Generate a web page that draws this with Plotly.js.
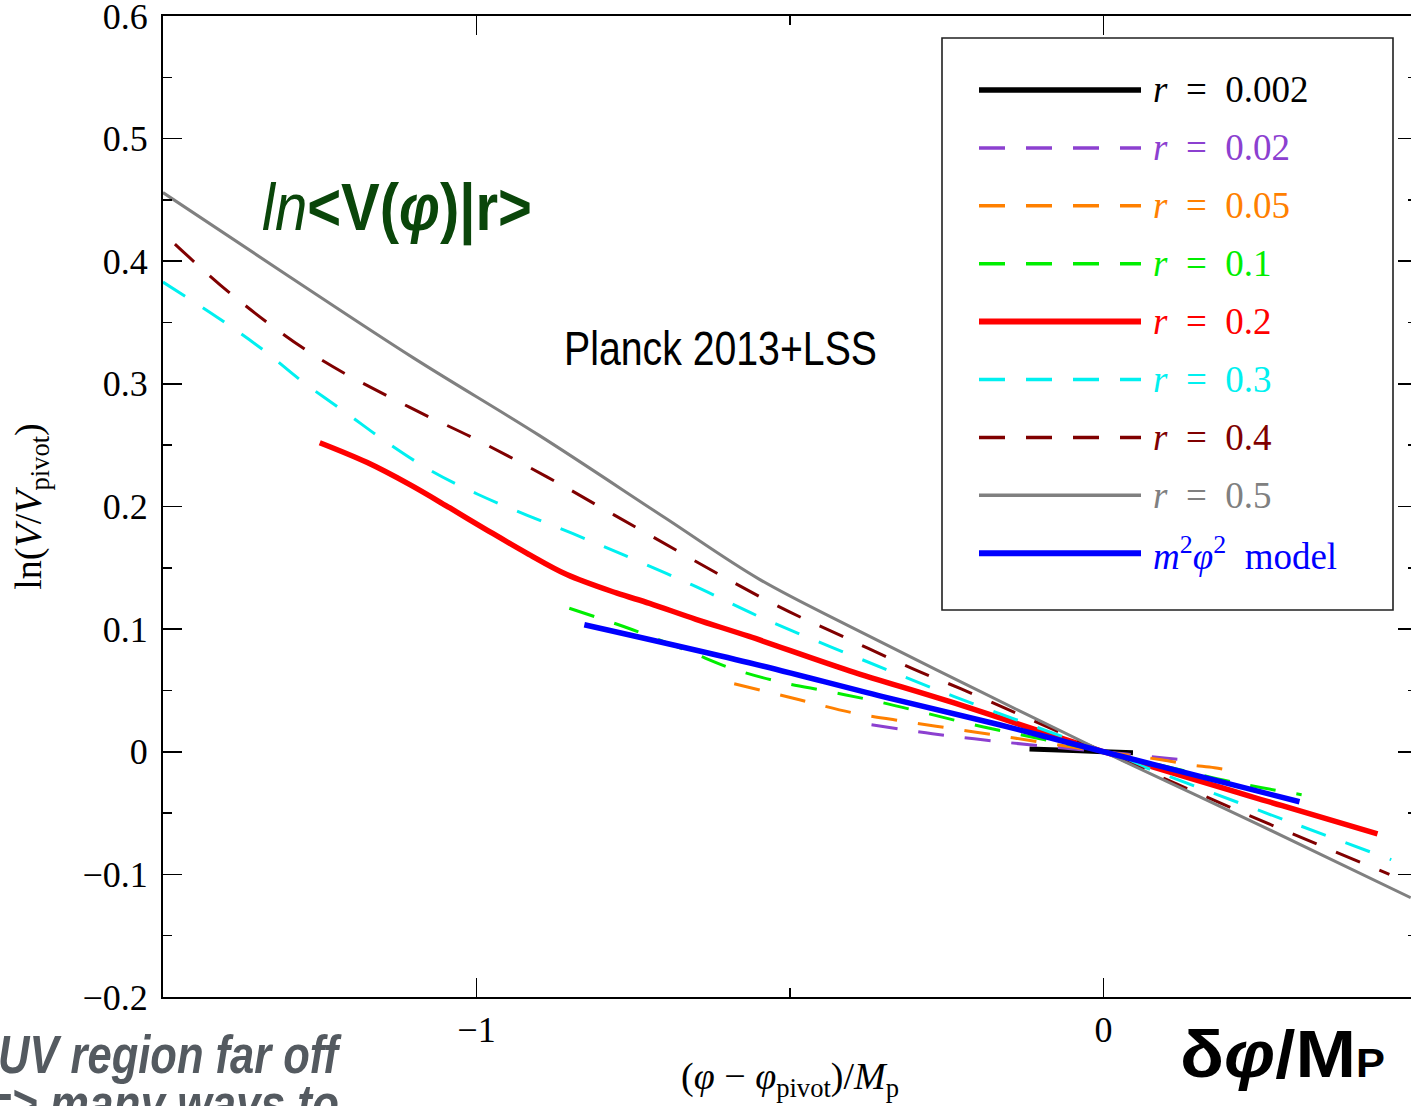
<!DOCTYPE html>
<html>
<head>
<meta charset="utf-8">
<script src="https://cdn.plot.ly/plotly-3.0.1.min.js"></script>
<style>
  html, body { margin: 0; padding: 0; overflow: hidden; background: #ffffff; }
  #plot { width: 1430px; height: 1106px; }
</style>
</head>
<body>
<div id="plot"></div>
<script>
// Reconstructed potential ln(V/V_pivot) versus field displacement for several tensor ratios r

const r002X = [-0.118, -0.06, 0, 0.047];
const r002Y = [0.0023, 0.0012, 0, -0.0008];

const r02X = [-0.370, -0.273, -0.193, -0.118, 0, 0.105, 0.142];
const r02Y = [0.022, 0.0147, 0.0098, 0.0057, 0, -0.0055, -0.0072];

const r05X = [-0.589, -0.485, -0.400, -0.314, -0.230, -0.145, 0, 0.092, 0.137, 0.177, 0.222];
const r05Y = [0.0555, 0.0424, 0.0318, 0.0245, 0.018, 0.0114, 0, -0.0065, -0.0106, -0.013, -0.017];

const r1X = [-0.852, -0.751, -0.660, -0.596, -0.517, -0.437, -0.352, -0.193, 0, 0.212, 0.316];
const r1Y = [0.117, 0.0995, 0.0816, 0.0685, 0.057, 0.049, 0.040, 0.0204, 0, -0.0253, -0.035];

const r2X = [-1.250, -1.175, -1.107, -1.043, -0.984, -0.920, -0.856, -0.777, -0.724, -0.650, -0.565, -0.405, -0.246, 0, 0.285, 0.437];
const r2Y = [0.252, 0.236, 0.218, 0.199, 0.181, 0.162, 0.1445, 0.1295, 0.121, 0.108, 0.094, 0.066, 0.041, 0, -0.044, -0.067];

const r3X = [-1.5, -1.407, -1.341, -1.278, -1.207, -1.142, -1.072, -0.998, -0.920, -0.847, -0.772, -0.656, -0.544, -0.394, -0.238, 0, 0.301, 0.459];
const r3Y = [0.383, 0.352, 0.328, 0.302, 0.276, 0.252, 0.229, 0.210, 0.193, 0.178, 0.162, 0.136, 0.109, 0.077, 0.045, 0, -0.058, -0.088];

const r4X = [-1.481, -1.386, -1.255, -1.107, -0.998, -0.887, -0.780, -0.528, -0.416, -0.301, -0.226, 0, 0.228, 0.456];
const r4Y = [0.414, 0.371, 0.322, 0.281, 0.254, 0.224, 0.193, 0.121, 0.094, 0.067, 0.051, 0, -0.051, -0.100];

const r5X = [-1.5, -1.3, -1.1, -0.9, -0.7, -0.55, -0.4, -0.2, 0, 0.25, 0.49];
const r5Y = [0.456, 0.388, 0.321, 0.258, 0.191, 0.141, 0.101, 0.050, 0, -0.060, -0.119];

const m2phi2X = [-0.828, -0.565, -0.352, -0.166, 0, 0.3126];
const m2phi2Y = [0.1036, 0.0726, 0.045, 0.022, 0, -0.0408];

const seriesLabels = [
  '<i>r</i>\u2002=\u20020.002',
  '<i>r</i>\u2002=\u20020.02',
  '<i>r</i>\u2002=\u20020.05',
  '<i>r</i>\u2002=\u20020.1',
  '<i>r</i>\u2002=\u20020.2',
  '<i>r</i>\u2002=\u20020.3',
  '<i>r</i>\u2002=\u20020.4',
  '<i>r</i>\u2002=\u20020.5',
  '<i>m</i><sup>2</sup><i>\u03c6</i><sup>2</sup>\u2002model'
];
const seriesX = [r002X, r02X, r05X, r1X, r2X, r3X, r4X, r5X, m2phi2X];
const seriesY = [r002Y, r02Y, r05Y, r1Y, r2Y, r3Y, r4Y, r5Y, m2phi2Y];
const seriesColors = ['#000000', '#8c40d0', '#ff8000', '#00ee00', '#ff0000', '#00f0f0', '#800000', '#808080', '#0000ff'];
const DASHED = '26px,21px';
const seriesDash = ['solid', DASHED, DASHED, DASHED, 'solid', DASHED, DASHED, 'solid', 'solid'];
const seriesWidth = [5, 3, 3, 3, 5.5, 3, 3, 3, 5.5];

const xTickVals = [-1, 0];
const xTickText = ['\u22121', '0'];
const xMinorVals = [-1.5, -0.5, 0.5];
const yTickVals = [-0.2, -0.1, 0, 0.1, 0.2, 0.3, 0.4, 0.5, 0.6];
const yTickText = ['\u22120.2', '\u22120.1', '0', '0.1', '0.2', '0.3', '0.4', '0.5', '0.6'];
const yMinorVals = [-0.15, -0.05, 0.05, 0.15, 0.25, 0.35, 0.45, 0.55];

const traces = seriesX.map((xs, i) => ({
  type: 'scatter',
  mode: 'lines',
  x: xs,
  y: seriesY[i],
  name: seriesLabels[i],
  line: { color: seriesColors[i], width: seriesWidth[i], dash: seriesDash[i], shape: 'spline', smoothing: 1.0 },
  showlegend: false,
  hoverinfo: 'skip'
}));

// Figure geometry (pixels) used to place the boxed key and the captions
const W = 1430, H = 1106, ML = 163, MR = 13, MT = 16, MB = 109;
const PW = W - ML - MR, PH = H - MT - MB;
const px = v => (v - ML) / PW;
const py = v => (H - MB - v) / PH;

const shapes = [];
const annotations = [];
const fitWidths = {};   // annotation index -> rendered text width in px (condensed captions)

shapes.push({
  type: 'rect', xref: 'paper', yref: 'paper',
  x0: px(942), x1: px(1393), y0: py(610), y1: py(38),
  line: { color: '#202020', width: 1.6 }, fillcolor: 'rgba(255,255,255,1)', layer: 'above'
});
seriesLabels.forEach((lab, i) => {
  const rowY = py(90 + 57.9 * i);
  shapes.push({
    type: 'line', xref: 'paper', yref: 'paper',
    x0: px(979), x1: px(1141), y0: rowY, y1: rowY,
    line: { color: seriesColors[i], width: seriesWidth[i] + 0.5, dash: seriesDash[i] }, layer: 'above'
  });
  annotations.push({
    xref: 'paper', yref: 'paper', x: px(1151), y: rowY,
    xanchor: 'left', yanchor: 'middle', align: 'left', showarrow: false,
    text: lab,
    font: { family: 'Liberation Serif, serif', size: 37, color: seriesColors[i] }
  });
});

function caption(text, left, midY, size, color, family, width) {
  if (width) fitWidths[annotations.length] = width;
  annotations.push({
    xref: 'paper', yref: 'paper', x: px(left), y: py(midY),
    xanchor: 'left', yanchor: 'middle', align: 'left', showarrow: false,
    text: text, font: { family: family, size: size, color: color }
  });
}
const SANS = 'Liberation Sans, Arial, sans-serif';
caption('<i>ln</i><b>&lt;V(<i>\u03c6</i>)|r&gt;</b>', 260, 208, 67, '#0a460a', SANS, 270);
caption('Planck 2013+LSS', 562, 348, 48, '#000000', SANS, 313);
caption('<b>\u03b4<i>\u03c6</i>/M<span style="font-size:40px">P</span></b>', 1178, 1053, 67, '#000000', SANS, 205);
caption('<b><i>UV region far off</i></b>', -4, 1054, 53, '#545a60', SANS, 340);
caption('<b><i>=&gt; many ways to</i></b>', -16, 1103, 53, '#545a60', SANS, 353);

const axisCommon = {
  showgrid: false, zeroline: false,
  showline: true, linecolor: '#000000', linewidth: 2,
  mirror: 'allticks', ticks: 'inside', ticklen: 19, tickwidth: 1.6, tickcolor: '#000000',
  tickfont: { family: 'Liberation Serif, serif', size: 36, color: '#000000' },
  tickmode: 'array', ticklabeloverflow: 'allow'
};
const titleFont = { family: 'Liberation Serif, serif', size: 38, color: '#000000' };

const layout = {
  width: W, height: H,
  margin: { l: ML, r: MR, t: MT, b: MB, pad: 0 },
  paper_bgcolor: '#ffffff', plot_bgcolor: '#ffffff',
  showlegend: false,
  xaxis: Object.assign({}, axisCommon, {
    range: [-1.5, 0.5], autorange: false,
    tickvals: xTickVals, ticktext: xTickText,
    minor: { tickmode: 'array', tickvals: xMinorVals, ticks: 'inside', ticklen: 9, tickwidth: 1.6, tickcolor: '#000000' },
    ticklabelstandoff: 0,
    title: { text: '(<i>\u03c6</i> \u2212 <i>\u03c6</i><sub>pivot</sub>)/<i>M</i><sub>p</sub>', standoff: 13, font: titleFont }
  }),
  yaxis: Object.assign({}, axisCommon, {
    range: [-0.2, 0.6], autorange: false,
    tickvals: yTickVals, ticktext: yTickText,
    minor: { tickmode: 'array', tickvals: yMinorVals, ticks: 'inside', ticklen: 9, tickwidth: 1.6, tickcolor: '#000000' },
    ticklabelstandoff: 6,
    title: { text: 'ln(<i>V</i>/<i>V</i><sub>pivot</sub>)', standoff: 29, font: titleFont }
  }),
  shapes: shapes,
  annotations: annotations
};

Plotly.newPlot('plot', traces, layout, { displayModeBar: false, staticPlot: true }).then(() => {
  // Condense the sans-serif captions to their set widths
  Object.keys(fitWidths).forEach(k => {
    const t = document.querySelector('g.annotation[data-index="' + k + '"] text.annotation-text');
    if (t) {
      t.setAttribute('textLength', fitWidths[k]);
      t.setAttribute('lengthAdjust', 'spacingAndGlyphs');
    }
  });
});
</script>
</body>
</html>
